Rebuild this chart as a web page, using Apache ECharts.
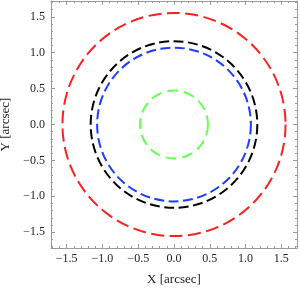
<!DOCTYPE html>
<html>
<head>
<meta charset="utf-8">
<script src="https://cdn.jsdelivr.net/npm/echarts@6/dist/echarts.min.js"></script>
<style>html,body{margin:0;padding:0;background:#fff}#c{width:300px;height:289px}</style>
</head>
<body>
<div id="c"></div>
<script>
// Data
const ringNames = ['outer', 'middle', 'inner', 'core'];
const ringRadii = [1.56, 1.165, 1.075, 0.475];
const ringColors = ['#ff1f1f', '#000000', '#1f3cff', '#66ff55'];
const ringDashes = [[13, 5.5], [10, 4.5], [10, 4.5], [11, 6]];
const centerX = [0, 0, 0, 0];
const centerY = [0, 0, 0, 0];
const majorTicks = [-1.5, -1.0, -0.5, 0.0, 0.5, 1.0, 1.5];
const minorTicks = [-1.7, -1.6, -1.4, -1.3, -1.2, -1.1, -0.9, -0.8, -0.7, -0.6, -0.4, -0.3, -0.2, -0.1,
                    0.1, 0.2, 0.3, 0.4, 0.6, 0.7, 0.8, 0.9, 1.1, 1.2, 1.3, 1.4, 1.6, 1.7];
const axisMin = -1.72, axisMax = 1.72;
const xTitle = 'X [arcsec]', yTitle = 'Y [arcsec]';

const frameColor = '#9a9a9a';
const font = 'Liberation Serif';
const fmt = v => (v < 0 ? '\u2212' : '') + Math.abs(v).toFixed(1);

function mkAxis(dim, grid, pos, ticks, len, withLabel, withLine, name) {
  const a = {
    type: 'value', gridIndex: grid, position: pos, min: axisMin, max: axisMax,
    splitLine: { show: false },
    axisLine: { show: withLine, onZero: false, lineStyle: { color: frameColor, width: 1 } },
    axisTick: { show: true, inside: true, length: len, customValues: ticks, lineStyle: { color: frameColor, width: 1 } },
    axisLabel: withLabel ? { show: true, customValues: ticks, formatter: fmt, fontFamily: font, fontSize: 12, color: '#222', margin: dim === 'x' ? 5 : 6 }
                         : { show: false },
  };
  if (name) {
    a.name = name; a.nameLocation = 'middle';
    a.nameTextStyle = { fontFamily: font, fontSize: 13, color: '#222' };
    a.nameGap = dim === 'x' ? 25 : 37;
  }
  return a;
}

const chart = echarts.init(document.getElementById('c'), null, { renderer: 'canvas' });
const circleData = ringRadii.map((r, i) => [centerX[i], centerY[i], r, i]);
const gridRect = { left: 51, top: 1, width: 246, height: 247, containLabel: false, outerBoundsMode: 'none' };

chart.setOption({
  animation: false,
  grid: [Object.assign({}, gridRect), Object.assign({}, gridRect)],
  xAxis: [
    mkAxis('x', 0, 'bottom', majorTicks, 4, true, true, xTitle),
    mkAxis('x', 0, 'top', majorTicks, 4, false, true),
    mkAxis('x', 1, 'bottom', minorTicks, 2, false, false),
    mkAxis('x', 1, 'top', minorTicks, 2, false, false),
  ],
  yAxis: [
    mkAxis('y', 0, 'left', majorTicks, 4, true, true, yTitle),
    mkAxis('y', 0, 'right', majorTicks, 4, false, true),
    mkAxis('y', 1, 'left', minorTicks, 2, false, false),
    mkAxis('y', 1, 'right', minorTicks, 2, false, false),
  ],
  series: [{
    type: 'custom',
    xAxisIndex: 0, yAxisIndex: 0,
    coordinateSystem: 'cartesian2d',
    encode: { x: 0, y: 1 },
    data: circleData,
    renderItem: function (params, api) {
      const cxv = api.value(0), cyv = api.value(1), rv = api.value(2);
      const c = api.coord([cxv, cyv]);
      const e = api.coord([cxv + rv, cyv]);
      const idx = api.value(3);
      return {
        type: 'circle',
        shape: { cx: c[0], cy: c[1], r: Math.abs(e[0] - c[0]) },
        style: { fill: 'none', stroke: ringColors[idx], lineWidth: 2, lineDash: ringDashes[idx] },
        silent: true
      };
    }
  }]
});
</script>
</body>
</html>
